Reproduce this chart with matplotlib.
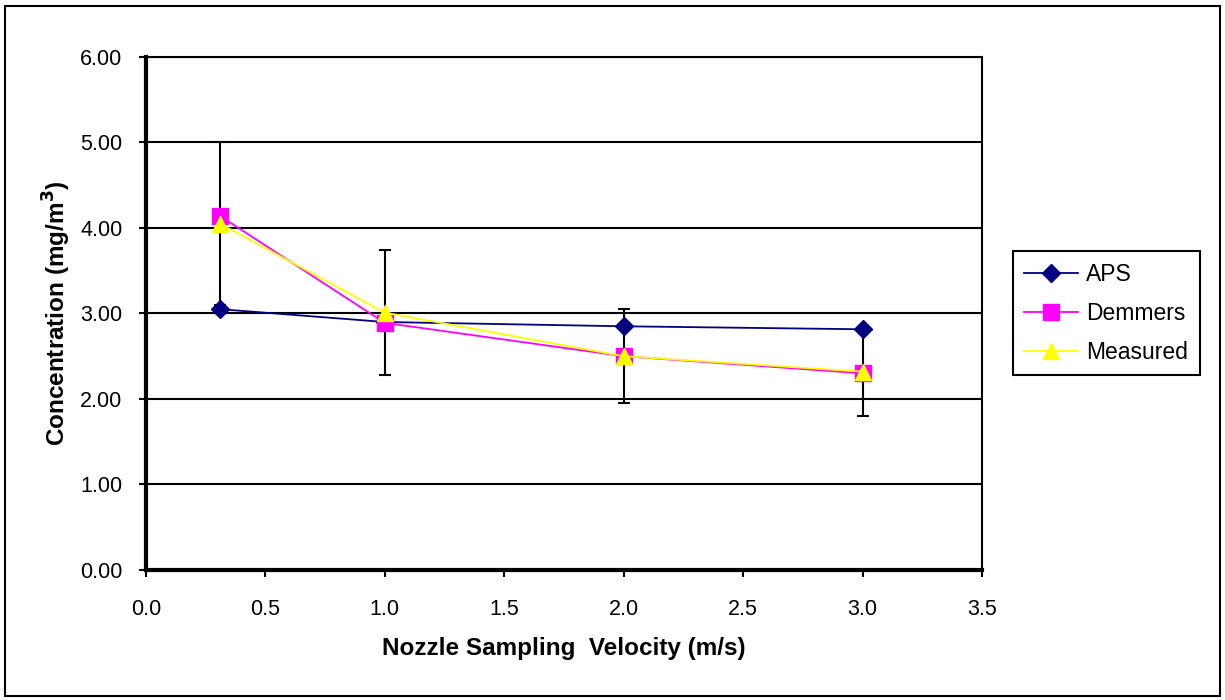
import matplotlib
matplotlib.use("Agg")
from matplotlib import pyplot as plt
from matplotlib.patches import Rectangle

plt.rcParams["font.family"] = ["Liberation Sans", "DejaVu Sans"]

velocity = [0.31, 1.0, 2.0, 3.0]
aps = [3.05, 2.90, 2.85, 2.815]
demmers = [4.14, 2.89, 2.50, 2.30]
measured = [4.05, 3.01, 2.50, 2.32]
measured_err = [0.95, 0.73, 0.55, 0.515]

fig = plt.figure(figsize=(12.25, 7), dpi=100)
ax = fig.add_axes([0.1192, 0.1857, 0.6824, 0.733])

# outer chart border
fig.patches.append(Rectangle((0.004, 0.006), 0.992, 0.985, transform=fig.transFigure,
                             fill=False, edgecolor="black", lw=1.5))

ax.errorbar(velocity, measured, yerr=measured_err, fmt="none", ecolor="black",
            elinewidth=1.5, capsize=4.5, capthick=1.5, zorder=2)
ax.plot(velocity, aps, color="#000080", marker="D", markersize=9, lw=1.3,
        label="APS", zorder=3)
ax.plot(velocity, demmers, color="#FF00FF", marker="s", markersize=11, lw=1.3,
        label="Demmers", zorder=4)
ax.plot(velocity, measured, color="#FFFF00", marker="^", markersize=12, lw=1.3,
        label="Measured", zorder=5)

ax.set_xlim(0, 3.5)
ax.set_ylim(0, 6)
ax.set_xticks([0.0, 0.5, 1.0, 1.5, 2.0, 2.5, 3.0, 3.5])
ax.set_xticklabels([f"{v:.1f}" for v in ax.get_xticks()])
ax.set_yticks([0, 1, 2, 3, 4, 5, 6])
ax.set_yticklabels([f"{v:.2f}" for v in ax.get_yticks()])
ax.yaxis.grid(True, color="black", lw=1.5)
ax.set_axisbelow(True)
ax.tick_params(labelsize=15.5, length=5, width=1.5, direction="out")
ax.tick_params(axis="x", pad=16)
ax.tick_params(axis="y", pad=12)

ax.spines["left"].set_linewidth(3)
ax.spines["bottom"].set_linewidth(3)
ax.spines["top"].set_linewidth(1.5)
ax.spines["right"].set_linewidth(1.5)

ax.set_xlabel("Nozzle Sampling  Velocity (m/s)", fontsize=17.5, fontweight="bold", labelpad=12)
ax.set_ylabel("Concentration (mg/m$^\\mathbf{3}$)", fontsize=17.5, fontweight="bold", labelpad=5)

leg = ax.legend(loc="center left", bbox_to_anchor=(1.037, 0.5), borderaxespad=0,
                fontsize=16.5, frameon=True, fancybox=False, edgecolor="black",
                framealpha=1, handlelength=2.35, handletextpad=0.35,
                borderpad=0.5, labelspacing=0.7)
leg.get_frame().set_linewidth(1.5)

fig.savefig("out.png", dpi=100)
